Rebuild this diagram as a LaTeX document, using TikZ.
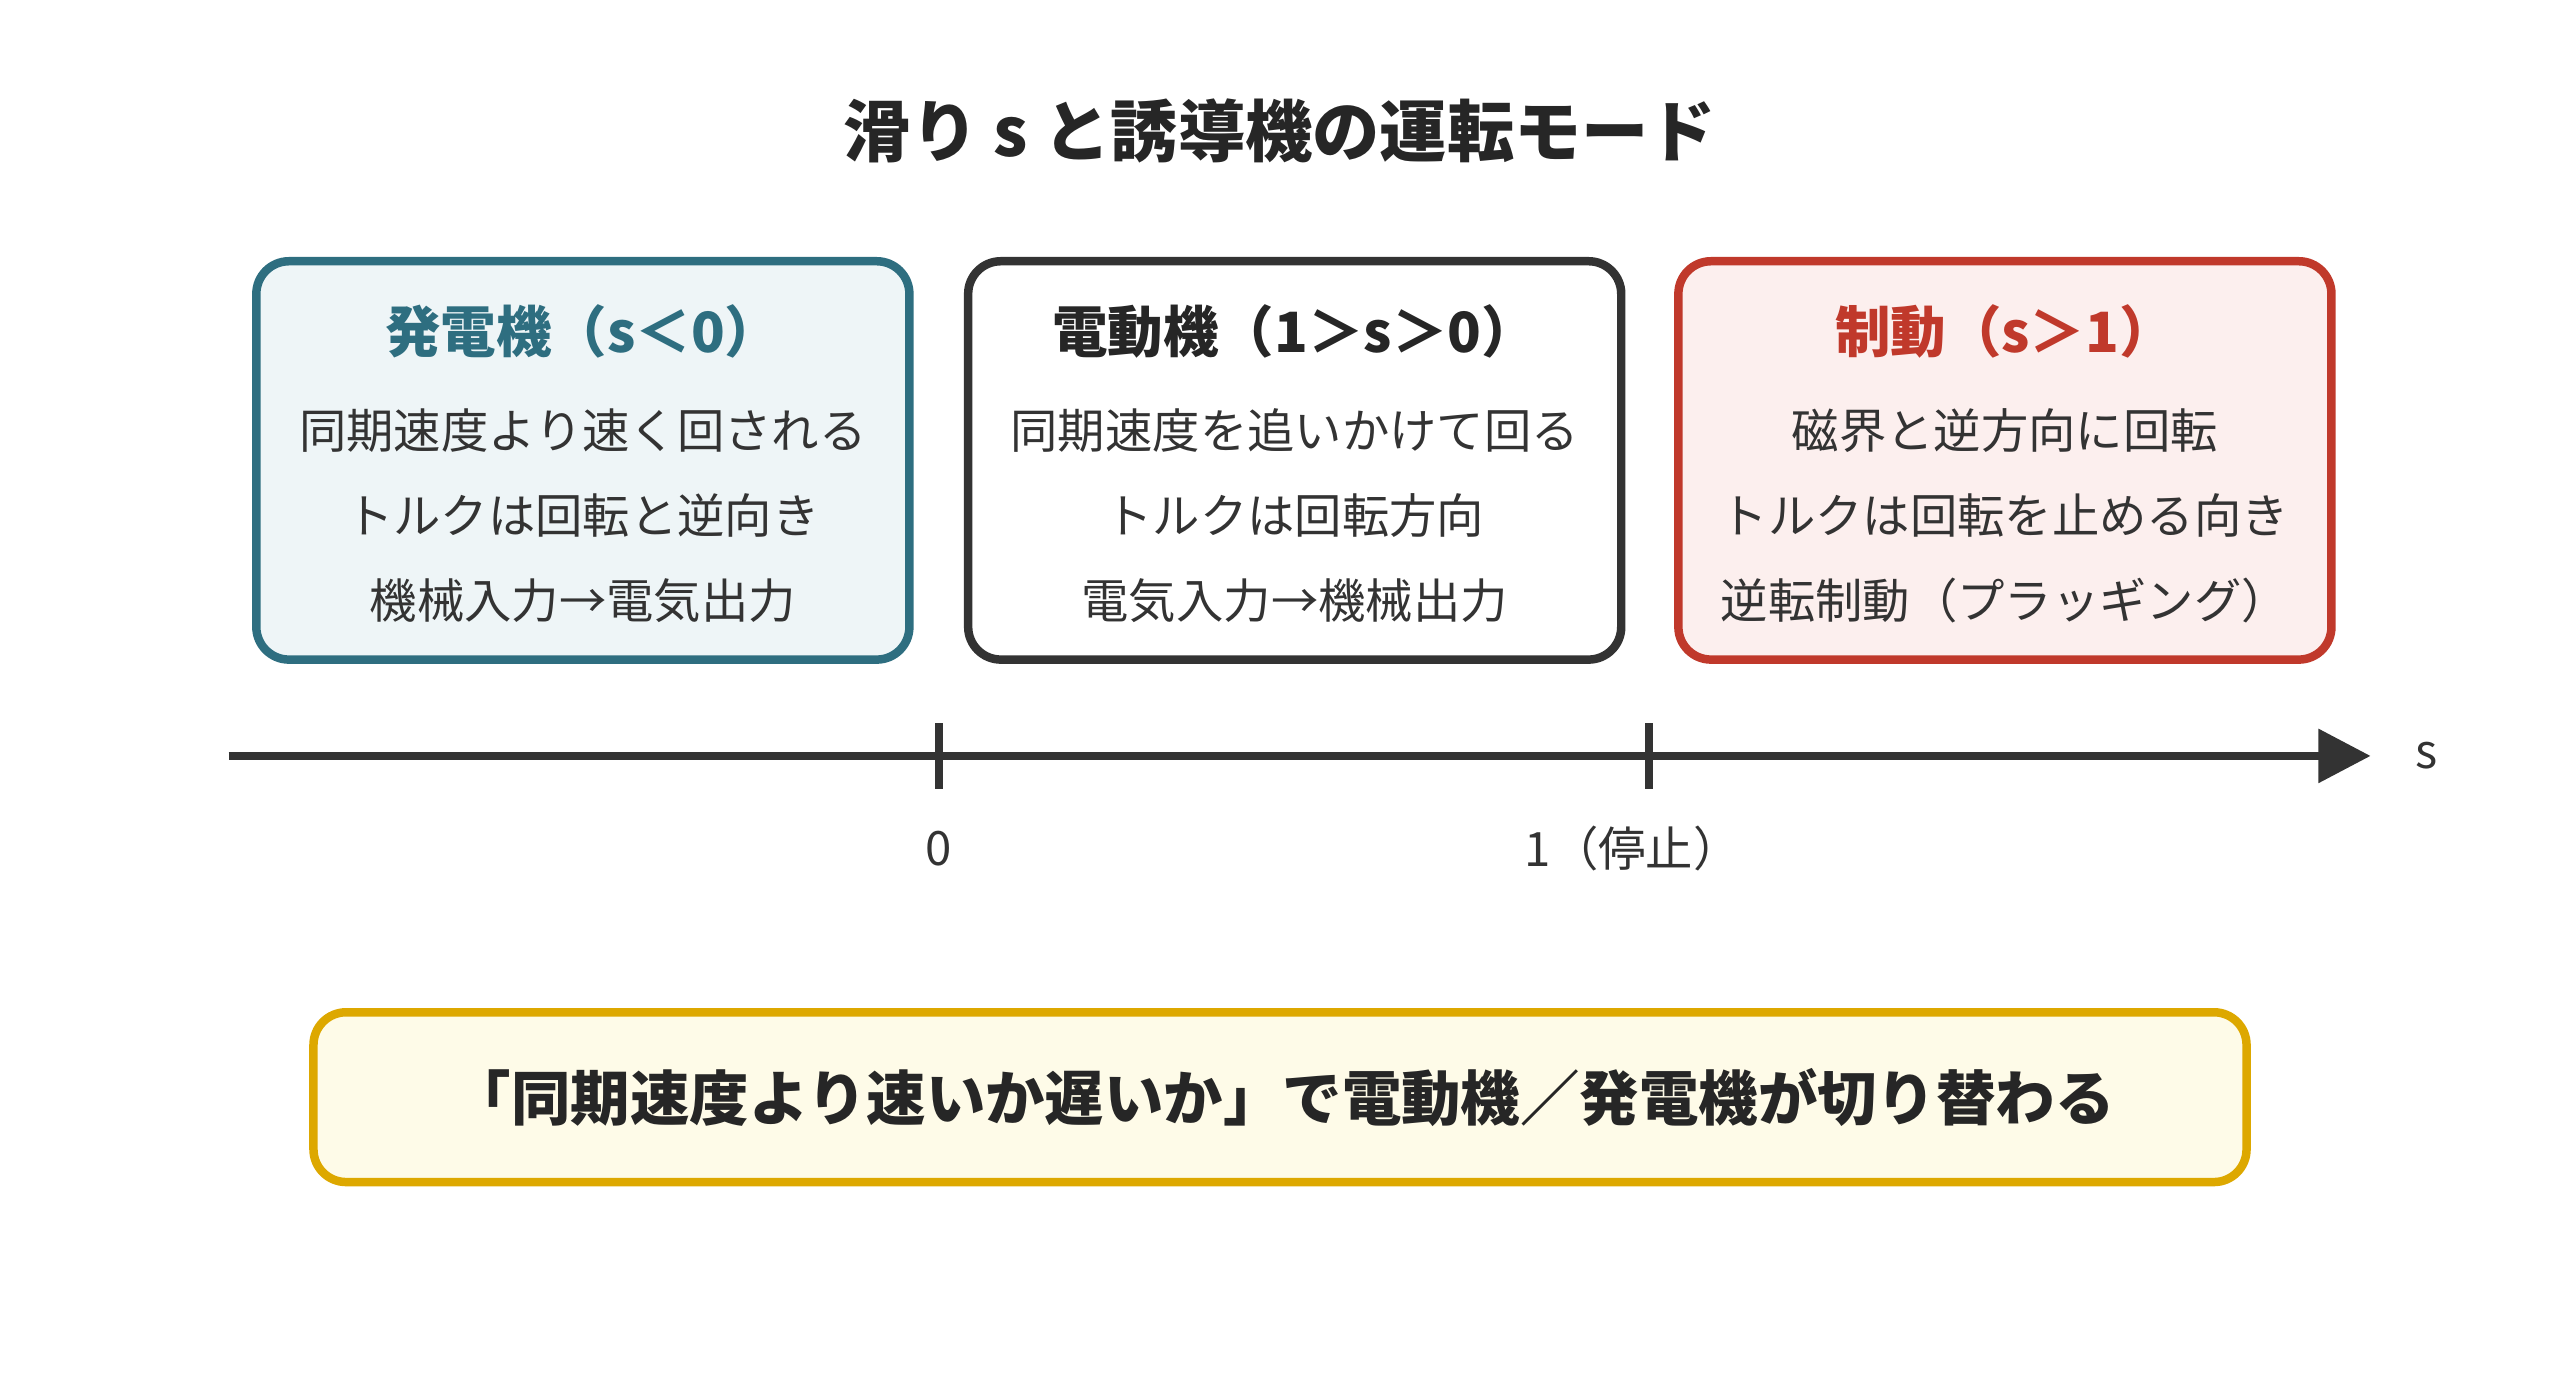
\documentclass[tikz,border=0pt]{standalone}
\usepackage{fontspec}
\setmainfont{Noto Sans CJK JP}
\usetikzlibrary{arrows.meta}
\definecolor{teal}{HTML}{2E6E80}
\definecolor{tealbg}{HTML}{EEF5F7}
\definecolor{dk}{HTML}{333333}
\definecolor{rd}{HTML}{C0392B}
\definecolor{rdbg}{HTML}{FCEFEE}
\definecolor{yl}{HTML}{DDA800}
\definecolor{ylbg}{HTML}{FEFBE8}
\begin{document}
\begin{tikzpicture}[x=0.5pt,y=-0.5pt,
 box/.style={rounded corners=10pt,line width=2.6pt},
 hd/.style={font=\fontsize{17}{20}\selectfont\bfseries},
 ln/.style={font=\fontsize{14.5}{17}\selectfont,text=dk}]
\useasboundingbox (0,0) rectangle (1568,846);
\node[font=\fontsize{20.6}{24}\selectfont\bfseries,text=black!85] (title) at (784,80) {滑り s と誘導機の運転モード};
\draw[box,draw=teal,fill=tealbg] (157,160) rectangle (557,404);
\draw[box,draw=dk,fill=white] (593,160) rectangle (993,404);
\draw[box,draw=rd,fill=rdbg] (1028,160) rectangle (1428,404);
\node[hd,text=teal] (h1) at (357,203) {発電機（s＜0）};
\node[ln] (a1) at (357,264) {同期速度より速く回される};
\node[ln] (a2) at (357,316) {トルクは回転と逆向き};
\node[ln] (a3) at (357,368) {機械入力→電気出力};
\node[hd,text=black!85] (h2) at (793,203) {電動機（1＞s＞0）};
\node[ln] (b1) at (793,264) {同期速度を追いかけて回る};
\node[ln] (b2) at (793,316) {トルクは回転方向};
\node[ln] (b3) at (793,368) {電気入力→機械出力};
\node[hd,text=rd] (h3) at (1228,203) {制動（s＞1）};
\node[ln] (c1) at (1228,264) {磁界と逆方向に回転};
\node[ln] (c2) at (1228,316) {トルクは回転を止める向き};
\node[ln] (c3) at (1228,368) {逆転制動（プラッギング）};
\coordinate (s0) at (140,463);
\coordinate (s1) at (1452,463);
\draw[dk,line width=2.6pt,-{Triangle[length=16pt,width=16pt]}] (s0) -- (s1);
\draw[dk,line width=2.6pt] (575,443) -- (575,483) (1010,443) -- (1010,483);
\node[ln] (sl) at (1486,463) {s};
\node[ln] (z) at (575,520) {0};
\node[ln] (o) at (1000,520) {1（停止）};
\draw[box,draw=yl,fill=ylbg] (192,620) rectangle (1376,724);
\node[font=\fontsize{18.2}{22}\selectfont\bfseries,text=black!85] (m) at (786,672) {「同期速度より速いか遅いか」で電動機／発電機が切り替わる};
\end{tikzpicture}
\end{document}
